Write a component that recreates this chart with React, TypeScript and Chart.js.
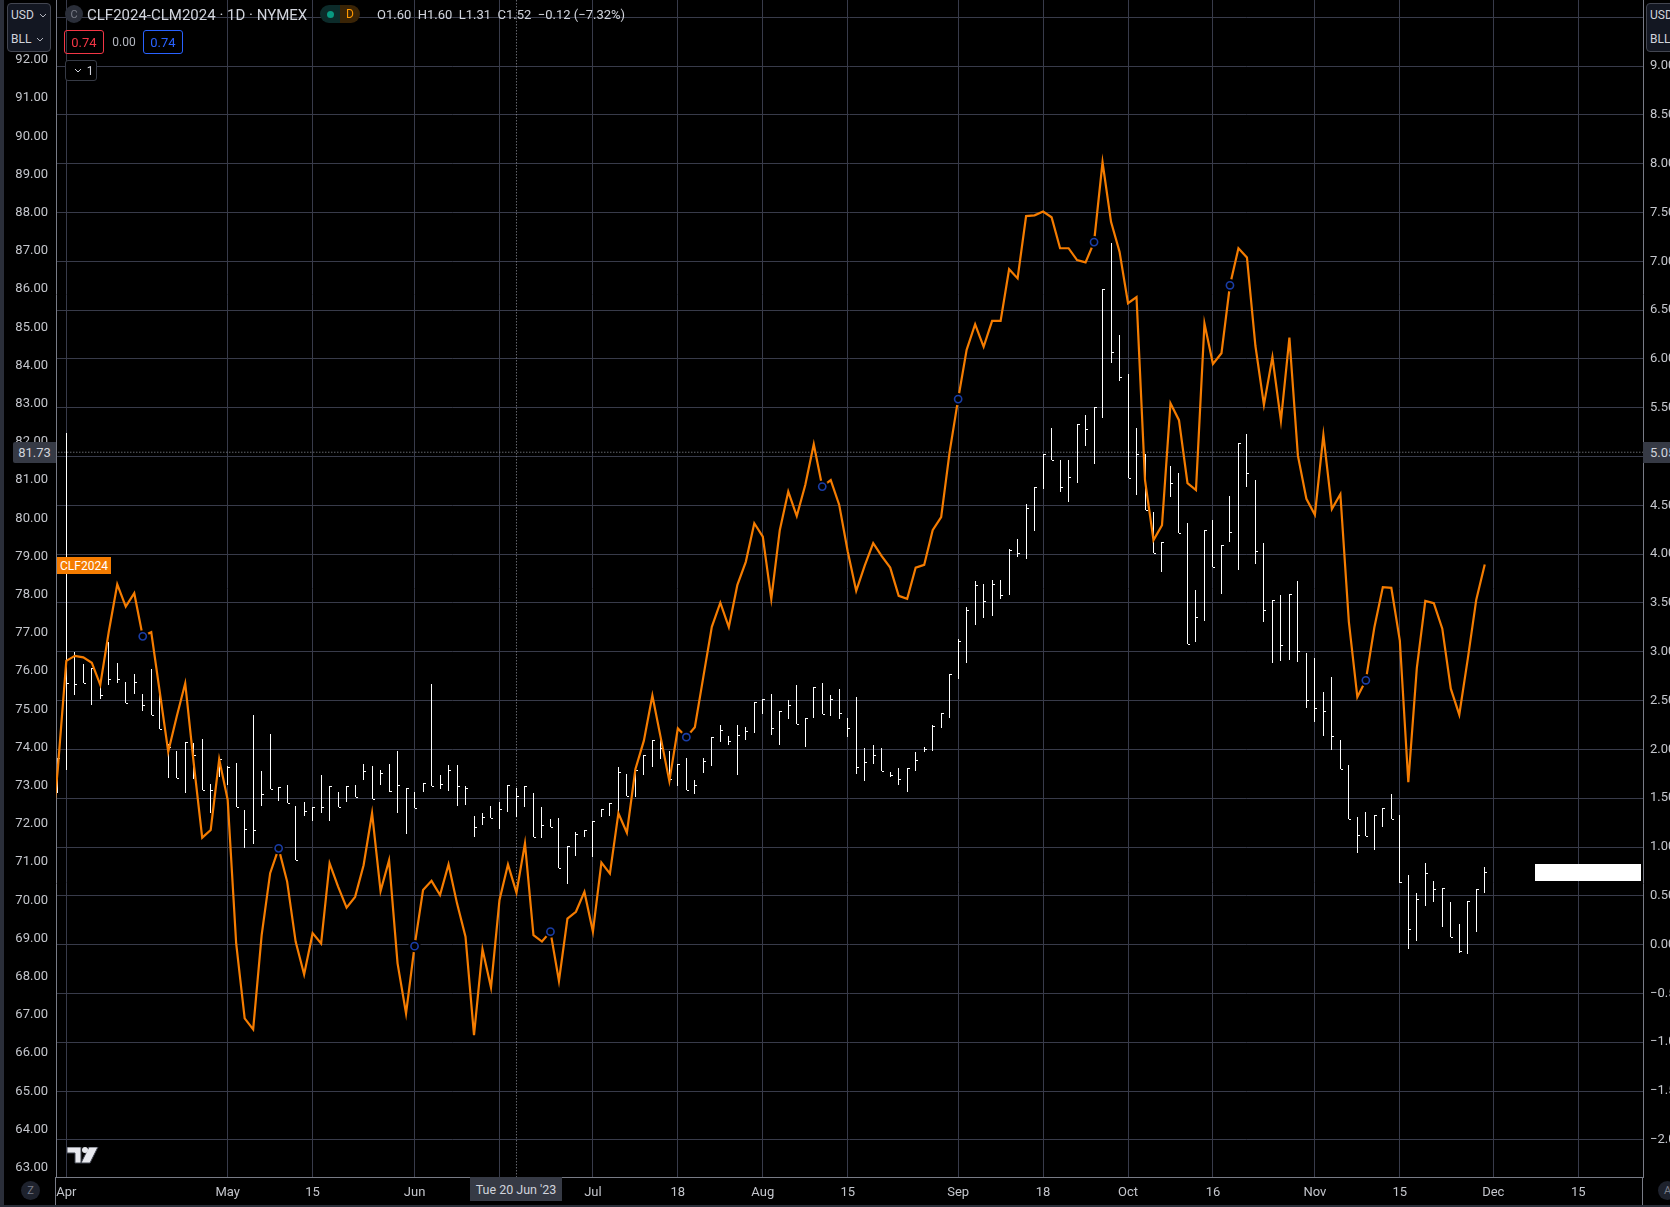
import { useEffect, useRef } from "react"
import { Chart, registerables } from "chart.js"

Chart.register(...registerables)

const FONT = "Roboto, sans-serif"

// spread CLF2024-CLM2024, one value per session starting one session before the Apr gridline
const spreadHigh = [
  1.91, 5.24, 3.0, 2.88, 2.83, 2.66, 3.1, 2.89, 2.69, 2.77,
  2.57, 2.82, 2.65, 2.06, 1.98, 2.08, 2.07, 2.11, 1.65, 1.9,
  1.83, 1.86, 1.38, 2.35, 1.78, 2.16, 1.61, 1.64, 1.42, 1.46,
  1.41, 1.74, 1.62, 1.56, 1.62, 1.64, 1.85, 1.83, 1.79, 1.85,
  1.98, 1.6, 1.56, 1.66, 2.67, 1.74, 1.84, 1.84, 1.63, 1.32,
  1.35, 1.42, 1.46, 1.64, 1.6, 1.63, 1.55, 1.41, 1.29, 1.3,
  1.01, 1.15, 1.17, 1.27, 1.39, 1.45, 1.82, 1.75, 1.79, 1.94,
  2.1, 2.1, 1.98, 1.85, 1.91, 1.69, 1.91, 2.13, 2.25, 2.14,
  2.25, 2.23, 2.49, 2.52, 2.57, 2.39, 2.51, 2.66, 2.32, 2.64,
  2.68, 2.56, 2.62, 2.32, 2.54, 2.01, 2.04, 2.01, 1.77, 1.81,
  1.81, 1.97, 2.02, 2.25, 2.37, 2.77, 3.13, 3.46, 3.73, 3.69,
  3.74, 3.74, 4.05, 4.16, 4.51, 4.69, 5.03, 5.29, 4.97, 4.97,
  5.33, 5.43, 5.51, 6.72, 7.19, 6.25, 5.85, 5.29, 5.03, 4.43,
  4.12, 4.9, 4.83, 4.32, 3.63, 4.25, 4.35, 4.09, 4.6, 5.14,
  5.23, 4.76, 4.11, 3.53, 3.58, 3.59, 3.73, 2.99, 2.94, 2.59,
  2.74, 2.1, 1.84, 1.31, 1.36, 1.33, 1.4, 1.54, 1.33, 0.71,
  0.53, 0.84, 0.65, 0.58, 0.44, 0.21, 0.45, 0.57, 0.8,
]
const spreadLow = [
  1.55, 1.79, 2.56, 2.68, 2.45, 2.52, 2.66, 2.68, 2.48, 2.57,
  2.39, 2.35, 2.21, 1.71, 1.71, 1.55, 1.7, 1.58, 1.35, 1.72,
  1.64, 1.41, 0.99, 1.03, 1.42, 1.59, 1.47, 1.45, 0.87, 1.32,
  1.27, 1.35, 1.27, 1.41, 1.46, 1.51, 1.69, 1.49, 1.64, 1.56,
  1.35, 1.13, 1.4, 1.56, 1.63, 1.59, 1.57, 1.42, 1.43, 1.1,
  1.23, 1.3, 1.18, 1.36, 1.31, 1.41, 1.1, 1.09, 1.2, 0.78,
  0.62, 0.91, 1.1, 0.9, 1.31, 1.32, 1.36, 1.52, 1.51, 1.74,
  1.82, 1.9, 1.69, 1.62, 1.58, 1.54, 1.76, 1.83, 2.08, 2.05,
  1.74, 2.1, 2.17, 2.36, 2.15, 2.04, 2.31, 2.26, 2.02, 2.32,
  2.36, 2.34, 2.31, 2.13, 1.75, 1.68, 1.85, 1.78, 1.72, 1.64,
  1.56, 1.78, 1.97, 1.98, 2.22, 2.32, 2.72, 2.89, 3.27, 3.35,
  3.37, 3.54, 3.58, 3.97, 3.95, 4.24, 4.67, 4.97, 4.64, 4.53,
  4.73, 5.11, 4.92, 5.4, 5.96, 5.77, 4.78, 4.61, 4.45, 4.01,
  3.82, 4.59, 4.22, 3.08, 3.1, 3.32, 3.87, 3.59, 4.12, 3.84,
  4.69, 3.9, 3.31, 2.89, 2.91, 2.92, 2.9, 2.42, 2.28, 2.14,
  1.99, 1.8, 1.29, 0.94, 1.11, 0.97, 1.21, 1.29, 0.63, -0.04,
  0.04, 0.4, 0.44, 0.18, 0.08, -0.09, -0.1, 0.13, 0.53,
]
const spreadClose = [
  1.91, 2.68, 2.67, 2.68, 2.83, 2.56, 2.72, 2.72, 2.48, 2.69,
  2.46, 2.35, 2.21, 2.02, 1.71, 2.08, 1.94, 1.58, 1.58, 1.9,
  1.82, 1.41, 1.18, 1.17, 1.54, 1.59, 1.61, 1.45, 0.87, 1.37,
  1.41, 1.41, 1.62, 1.41, 1.62, 1.51, 1.78, 1.49, 1.76, 1.57,
  1.64, 1.6, 1.4, 1.66, 1.63, 1.65, 1.79, 1.63, 1.6, 1.2,
  1.31, 1.3, 1.39, 1.64, 1.52, 1.63, 1.1, 1.23, 1.2, 0.78,
  1.01, 1.13, 1.17, 1.27, 1.39, 1.45, 1.77, 1.52, 1.79, 1.94,
  2.1, 2.01, 1.7, 1.85, 1.58, 1.64, 1.88, 2.13, 2.2, 2.09,
  2.15, 2.19, 2.49, 2.52, 2.22, 2.39, 2.45, 2.26, 2.32, 2.64,
  2.36, 2.52, 2.37, 2.22, 1.82, 1.87, 1.94, 1.78, 1.74, 1.7,
  1.81, 1.89, 2.0, 2.24, 2.37, 2.77, 3.11, 3.43, 3.68, 3.52,
  3.69, 3.58, 4.04, 4.01, 4.47, 4.69, 5.03, 4.97, 4.69, 4.79,
  5.33, 5.28, 5.51, 6.72, 6.07, 5.82, 4.78, 5.03, 4.45, 4.01,
  4.12, 4.73, 4.22, 3.08, 3.36, 4.25, 3.87, 4.09, 4.23, 5.14,
  4.83, 4.03, 3.43, 3.53, 3.07, 3.59, 3.01, 2.51, 2.42, 2.39,
  2.14, 1.8, 1.29, 1.12, 1.11, 1.33, 1.4, 1.29, 0.64, 0.16,
  0.47, 0.73, 0.57, 0.58, 0.08, -0.07, 0.45, 0.57, 0.74,
]

// CLF2024 close, starts two sessions before the Apr gridline
const frontClose = [
  71.05, 73.44, 76.27, 76.4, 76.36, 76.22, 75.64, 77.03, 78.27, 77.69,
  78.04, 76.91, 77.02, 75.46, 73.89, 74.81, 75.68, 73.59, 71.64, 71.84,
  73.69, 72.63, 68.87, 66.91, 66.62, 69.09, 70.71, 71.36, 70.49, 68.92,
  68.06, 69.14, 68.87, 70.97, 70.36, 69.81, 70.09, 70.92, 72.28, 70.24,
  71.05, 68.35, 67.04, 68.8, 70.27, 70.51, 70.14, 70.94, 69.92, 69.05,
  66.47, 68.72, 67.72, 70.01, 70.94, 70.2, 71.49, 69.09, 68.92, 69.18,
  67.89, 69.52, 69.7, 70.22, 69.18, 70.99, 70.7, 72.28, 71.77, 73.43,
  74.18, 75.36, 74.24, 73.12, 74.5, 74.27, 74.53, 75.85, 77.16, 77.79,
  77.15, 78.25, 78.86, 79.87, 79.52, 77.89, 79.69, 80.7, 80.06, 80.87,
  81.94, 80.83, 81.0, 80.35, 79.13, 78.1, 78.76, 79.35, 79.01, 78.71,
  77.97, 77.89, 78.71, 78.78, 79.69, 80.03, 81.74, 83.12, 84.41, 85.08,
  84.49, 85.17, 85.17, 86.52, 86.28, 87.91, 87.93, 88.03, 87.88, 87.07,
  87.07, 86.76, 86.7, 87.23, 89.32, 87.76, 86.98, 85.63, 85.79, 81.0,
  79.43, 79.82, 83.01, 82.57, 80.92, 80.74, 85.1, 84.04, 84.32, 86.1,
  87.07, 86.83, 84.51, 82.97, 84.22, 82.55, 84.73, 81.64, 80.51, 80.09,
  82.18, 80.24, 80.63, 77.29, 75.32, 75.76, 77.14, 78.2, 78.18, 76.8,
  73.09, 76.08, 77.84, 77.78, 77.11, 75.54, 74.86, 76.32, 77.87, 78.79,
]

const markerSessions = [9, 25, 41, 57, 73, 89, 105, 121, 137, 153]

const xTickSessions = [0, 19, 29, 41, 51, 62, 72, 82, 92, 105, 115, 125, 135, 147, 157, 168, 178]
const xTickLabels = ["Apr", "May", "15", "Jun", "15", "Jul", "18", "Aug", "15", "Sep", "18", "Oct", "16", "Nov", "15", "Dec", "15"]
const leftTicks = [
  63, 64, 65, 66, 67, 68, 69, 70, 71, 72, 73, 74, 75, 76, 77,
  78, 79, 80, 81, 82, 83, 84, 85, 86, 87, 88, 89, 90, 91, 92,
]
const rightTicks = [
  -2, -1.5, -1, -0.5, 0, 0.5, 1, 1.5, 2, 2.5, 3, 3.5, 4, 4.5,
  5, 5.5, 6, 6.5, 7, 7.5, 8, 8.5, 9, 9.5,
]

const crosshairSession = 53
const crosshairPrice = 81.73

const GRID = "#383b4a"
const AXIS = "#787b86"
const TICK = "#c4c6cc"
const PANEL = "#363a45"

const tickList = (values: number[]) => values.map((value) => ({ value }))

// no extra room for labels at the edges, the plot runs to the top of the canvas
const fixSize = (s: any, size: { width?: number; height?: number }) => {
  if (size.width) s.width = size.width
  if (size.height) s.height = size.height
  s.paddingTop = 0
  s.paddingBottom = 0
  s.paddingLeft = 0
  s.paddingRight = 0
}

// high-low stems with a close tick on the right, snapped to whole pixels like the original
const hlcBars = {
  id: "hlcBars",
  beforeDatasetDraw(chart: any, args: any) {
    if (args.meta.type !== "bar") return
    const { ctx, scales } = chart
    ctx.save()
    ctx.fillStyle = "#ffffff"
    args.meta.data.forEach((bar: any, i: number) => {
      const x = Math.floor(bar.x)
      const top = Math.round(scales.yR.getPixelForValue(spreadHigh[i]))
      const bottom = Math.round(scales.yR.getPixelForValue(spreadLow[i]))
      const close = Math.round(scales.yR.getPixelForValue(spreadClose[i]))
      ctx.fillRect(x, top, 1, Math.max(bottom - top, 1))
      ctx.fillRect(x + 1, close, 2, 1)
    })
    ctx.restore()
    return false
  },
}

function Chevron({ color = "#b2b5be" }: { color?: string }) {
  return (
    <svg width="8" height="5" viewBox="0 0 8 5" style={{ marginLeft: 5 }}>
      <polyline points="1,1 4,4 7,1" fill="none" stroke={color} strokeWidth="1" />
    </svg>
  )
}

function Box({ x, y, w, h, style, children }: any) {
  return (
    <div
      style={{
        position: "absolute",
        left: x,
        top: y,
        width: w,
        height: h,
        boxSizing: "border-box",
        display: "flex",
        alignItems: "center",
        justifyContent: "center",
        whiteSpace: "nowrap",
        fontFamily: FONT,
        fontSize: 13,
        color: "#d1d4dc",
        ...style,
      }}
    >
      {children}
    </div>
  )
}

function UnitBox({ x }: { x: number }) {
  return (
    <Box x={x} y={3} w={44} h={49} style={{ background: "#131722", border: "1px solid #434651", borderRadius: 4, display: "block", fontSize: 12 }}>
      <div style={{ position: "absolute", left: 3, top: 3, height: 16, display: "flex", alignItems: "center" }}>USD<Chevron /></div>
      <div style={{ position: "absolute", left: 3, top: 27, height: 16, display: "flex", alignItems: "center" }}>BLL<Chevron /></div>
    </Box>
  )
}

export default function App() {
  const chartRef = useRef<HTMLCanvasElement>(null)

  useEffect(() => {
    if (!chartRef.current) return
    document.body.style.background = "#000000"

    const chart = new Chart(chartRef.current, {
      type: "line",
      data: {
        datasets: [
          {
            type: "line",
            order: 0,
            yAxisID: "yL",
            data: markerSessions.map((s) => ({ x: s, y: frontClose[s + 2] })),
            showLine: false,
            pointRadius: 3.6,
            pointBorderWidth: 1.6,
            pointBorderColor: "#1a3da6",
            pointBackgroundColor: "#000000",
          },
          {
            // black halo, the line stops short of each circle
            type: "line",
            order: 1,
            yAxisID: "yL",
            data: markerSessions.map((s) => ({ x: s, y: frontClose[s + 2] })),
            showLine: false,
            pointRadius: 6.2,
            pointBorderWidth: 0,
            pointBackgroundColor: "#000000",
          },
          {
            type: "line",
            order: 2,
            yAxisID: "yL",
            data: frontClose.map((y, i) => ({ x: i - 2, y })),
            borderColor: "#f57c00",
            borderWidth: 2.2,
            tension: 0,
            pointRadius: 0,
          },
          {
            type: "bar",
            order: 3,
            yAxisID: "yR",
            data: spreadHigh.map((h, i) => ({ x: i - 1, y: [spreadLow[i], h] })),
            backgroundColor: "#ffffff",
            barThickness: 1,
          },
          {
            type: "line",
            order: 4,
            yAxisID: "yL",
            data: [{ x: -2, y: crosshairPrice }, { x: 190, y: crosshairPrice }],
            borderColor: "#9598a1",
            borderWidth: 1,
            borderDash: [1, 2],
            pointRadius: 0,
          },
          {
            type: "line",
            order: 5,
            yAxisID: "yL",
            data: [{ x: crosshairSession, y: 60 }, { x: crosshairSession, y: 95 }],
            borderColor: "#9598a1",
            borderWidth: 1,
            borderDash: [1, 2],
            pointRadius: 0,
          },
        ],
      },
      options: {
        responsive: false,
        devicePixelRatio: 1,
        animation: false,
        events: [],
        layout: { padding: 0, autoPadding: false },
        plugins: { legend: { display: false }, tooltip: { enabled: false } },
        scales: {
          x: {
            type: "linear",
            offset: false,
            min: -1.213,
            max: 185.63,
            afterBuildTicks: (s: any) => { s.ticks = tickList(xTickSessions) },
            afterFit: (s: any) => fixSize(s, { height: 30 }),
            grid: { color: GRID, drawTicks: false, offset: false },
            border: { color: AXIS },
            ticks: {
              autoSkip: false,
              maxRotation: 0,
              minRotation: 0,
              padding: 8,
              color: TICK,
              font: { family: FONT, size: 13 },
              callback: (_v: any, i: number) => xTickLabels[i],
            },
          },
          yL: {
            position: "left",
            min: 62.757,
            max: 93.568,
            afterBuildTicks: (s: any) => { s.ticks = tickList(leftTicks) },
            afterFit: (s: any) => fixSize(s, { width: 56 }),
            grid: { display: false, drawTicks: false },
            border: { color: AXIS },
            ticks: {
              autoSkip: false,
              padding: 8,
              color: TICK,
              font: { family: FONT, size: 13 },
              callback: (v: any) => Number(v).toFixed(2),
            },
          },
          yR: {
            position: "right",
            min: -2.381,
            max: 9.678,
            afterBuildTicks: (s: any) => { s.ticks = tickList(rightTicks) },
            afterFit: (s: any) => fixSize(s, { width: 27 }),
            grid: { color: GRID, drawTicks: false },
            border: { color: AXIS },
            ticks: {
              autoSkip: false,
              padding: 7,
              color: TICK,
              font: { family: FONT, size: 13 },
              callback: (v: any) => (Number(v) < 0 ? "\u2212" + Math.abs(Number(v)).toFixed(2) : Number(v).toFixed(2)),
            },
          },
        },
      },
      plugins: [hlcBars],
    } as any)

    return () => chart.destroy()
  }, [])

  return (
    <div style={{ position: "absolute", left: 0, top: 0, width: 1670, height: 1207, background: "#000000", overflow: "hidden" }}>
      <canvas ref={chartRef} width={1670} height={1207} style={{ position: "absolute", left: 0, top: 0 }} />

      <Box x={0} y={0} w={4} h={1207} style={{ background: "#2a2e39" }} />
      <Box x={0} y={1205} w={1670} h={2} style={{ background: "#2a2e39" }} />
      <Box x={55} y={1177} w={1} h={28} style={{ background: AXIS }} />
      <Box x={1642} y={1177} w={1} h={28} style={{ background: AXIS }} />

      <UnitBox x={7} />
      <UnitBox x={1646} />

      <Box x={65} y={5} w={18} h={18} style={{ background: "#2a2e39", borderRadius: 9, color: "#787b86", fontSize: 11 }}>C</Box>
      <Box x={87} y={3} w={225} h={23} style={{ justifyContent: "flex-start", fontSize: 15 }}>CLF2024-CLM2024 · 1D · NYMEX</Box>
      <Box x={320} y={5} w={20} h={18} style={{ background: "#0c2b2a", borderRadius: "9px 0 0 9px" }}>
        <div style={{ width: 7, height: 7, borderRadius: 4, background: "#089981" }} />
      </Box>
      <Box x={340} y={5} w={20} h={18} style={{ background: "#3a2406", borderRadius: "0 9px 9px 0", color: "#ff9800", fontSize: 12 }}>D</Box>
      <Box x={377} y={3} w={250} h={23} style={{ justifyContent: "flex-start", fontSize: 13 }}>O1.60&nbsp;&nbsp;H1.60&nbsp;&nbsp;L1.31&nbsp;&nbsp;C1.52&nbsp;&nbsp;−0.12 (−7.32%)</Box>

      <Box x={64} y={30} w={40} h={24} style={{ border: "1px solid #f23645", borderRadius: 3, color: "#f23645" }}>0.74</Box>
      <Box x={112} y={30} w={24} h={24} style={{ color: "#b2b5be", fontSize: 12 }}>0.00</Box>
      <Box x={143} y={30} w={40} h={24} style={{ border: "1px solid #2962ff", borderRadius: 3, color: "#2962ff" }}>0.74</Box>
      <Box x={65} y={60} w={32} h={21} style={{ border: "1px solid #363a45", borderRadius: 3, background: "#000000" }}>
        <Chevron color="#d1d4dc" />
        <span style={{ marginLeft: 5, fontSize: 12 }}>1</span>
      </Box>

      <Box x={57} y={557} w={54} h={17} style={{ background: "#f57c00", color: "#ffffff", fontSize: 12 }}>CLF2024</Box>
      <Box x={13} y={442} w={43} h={21} style={{ background: PANEL, borderRadius: "2px 0 0 2px" }}>81.73</Box>
      <Box x={1643} y={442} w={27} h={21} style={{ background: PANEL, justifyContent: "flex-start", paddingLeft: 7 }}>5.05</Box>
      <Box x={470} y={1177} w={92} h={24} style={{ background: PANEL, fontSize: 12.5 }}>Tue 20 Jun '23</Box>

      <Box x={1535} y={864} w={106} h={17} style={{ background: "#ffffff" }} />

      <svg width="32" height="17" viewBox="0 0 32 17" style={{ position: "absolute", left: 67, top: 1147 }}>
        <path d="M0 0H14V16H8V6H0Z M22 0H31L23 16H14Z" fill="#e8e9ee" stroke="#434651" strokeWidth="1" />
        <circle cx="18" cy="3" r="3" fill="#e8e9ee" />
      </svg>

      <Box x={21} y={1181} w={19} h={19} style={{ background: "#1e222d", borderRadius: 10, color: "#787b86", fontSize: 11 }}>Z</Box>
      <Box x={1658} y={1181} w={19} h={19} style={{ background: "#1e222d", borderRadius: 10, color: "#787b86", fontSize: 11 }}>A</Box>
    </div>
  )
}
